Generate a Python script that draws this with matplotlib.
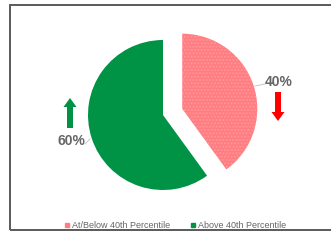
import matplotlib.pyplot as plt
from matplotlib.patches import Rectangle
from matplotlib.lines import Line2D

plt.rcParams['font.family'] = ['Liberation Sans', 'DejaVu Sans']

categories = ['At/Below 40th Percentile', 'Above 40th Percentile']
shares = [40, 60]
colors = ['#ff7c80', '#009245']

W, H = 331, 241
fig = plt.figure(figsize=(W / 100, H / 100), dpi=100)
ax = fig.add_axes([0, 0, 1, 1])

def py(y):
    # pixel row -> data y
    return H - y

cx, cy, r = 163, py(115), 75
# explode offset is in data units here (pie does not scale it by radius)
wedges, _ = ax.pie(shares, colors=colors, startangle=90, counterclock=False,
                   explode=[0.27 * r, 0], center=(cx, cy), radius=r,
                   wedgeprops=dict(linewidth=0))
wedges[0].set_hatch('.....')
wedges[0].set_edgecolor('#ff9699')
wedges[0].set_linewidth(0)

# pie() resets the limits, so set them afterwards
ax.set_xlim(0, W)
ax.set_ylim(0, H)
ax.set_aspect('equal')
ax.axis('off')

# outer frame
ax.add_patch(Rectangle((10, py(230)), 330, 225, fill=False,
                       edgecolor='#5a5a5a', lw=1.4, clip_on=False))

# data labels with leader lines
lab_kw = dict(fontsize=10, fontweight='bold', color='#666666', va='center')
ax.text(265, py(82), f'{shares[0]}%', ha='left', **lab_kw)
ax.plot([255, 265], [py(86), py(84)], color='#bfbfbf', lw=0.6)
ax.text(85, py(141), f'{shares[1]}%', ha='right', **lab_kw)
ax.plot([85, 90], [py(144), py(139)], color='#bfbfbf', lw=0.6)

# trend arrows
ax.arrow(70, py(128), 0, 30, width=6, head_width=13, head_length=9,
         length_includes_head=True, color=colors[1], lw=0)
ax.arrow(278, py(92), 0, -29, width=6, head_width=13, head_length=9,
         length_includes_head=True, color='#ff0000', lw=0)

handles = [Line2D([], [], marker='s', ls='', color=c, markersize=3.2)
           for c in colors]
leg = ax.legend(handles, categories, loc='center', ncol=2,
                bbox_to_anchor=(175 / W, 1 - 226 / H), frameon=False,
                fontsize=6.5, handlelength=0.6, handletextpad=0.3,
                columnspacing=2.2, labelcolor='#666666')

fig.savefig('out.png', dpi=100)
